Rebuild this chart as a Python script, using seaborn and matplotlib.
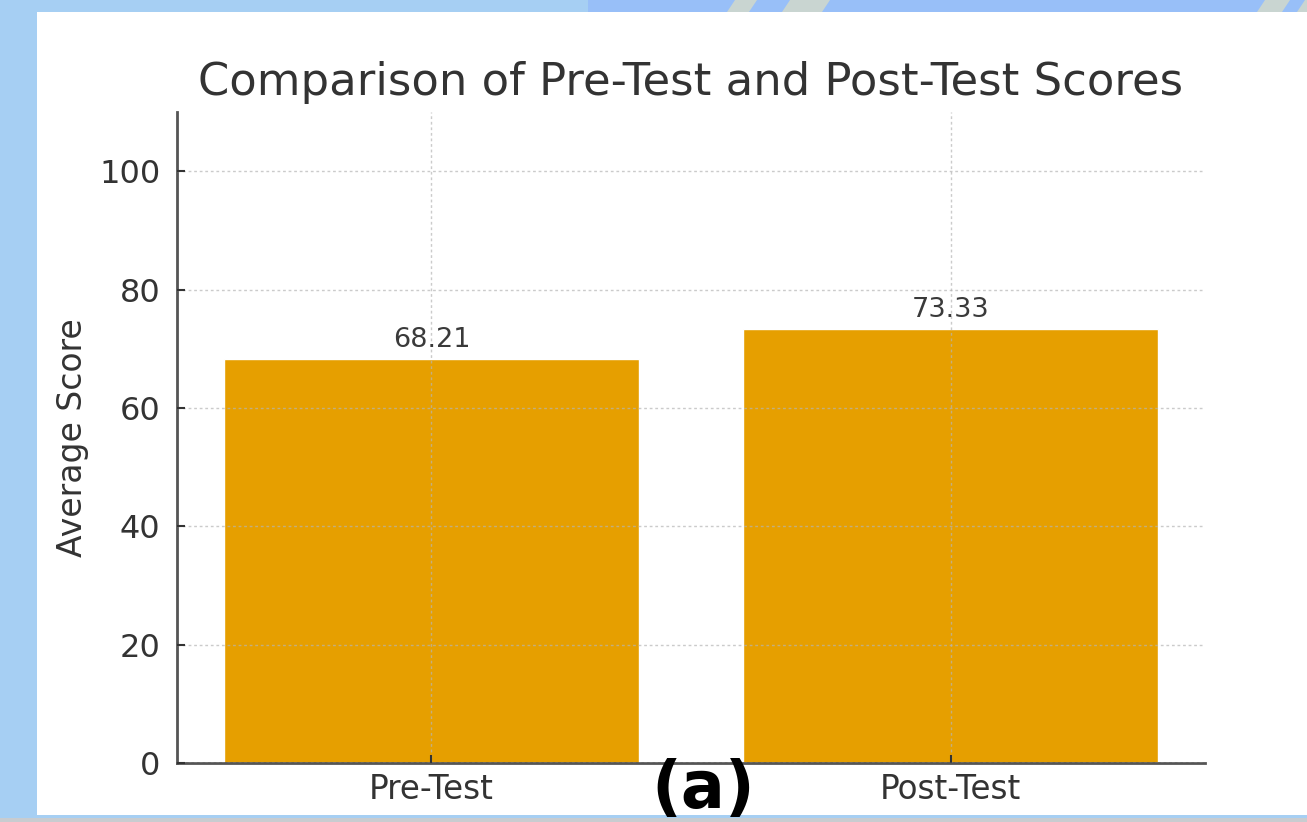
import numpy as np
import pandas as pd
import matplotlib
matplotlib.use('Agg')
import matplotlib.pyplot as plt
from matplotlib.patches import Rectangle, Polygon
import seaborn as sns

# data
groups = ['Pre-Test', 'Post-Test']
scores = [68.21, 73.33]
y_ticks = [0, 20, 40, 60, 80, 100]

df = pd.DataFrame({'group': groups, 'score': scores})

sns.set_style('white')
plt.rcParams['font.family'] = ['DejaVu Sans']

fig = plt.figure(figsize=(13.07, 8.22), dpi=100)
fig.patch.set_facecolor('#a6cff3')

# decorative frame: white card and stripes in the top band (kept behind the axes)
fig.patches.append(Rectangle((37 / 1307, 7 / 822), 1 - 37 / 1307, (815 - 12) / 822,
                             transform=fig.transFigure, facecolor='white',
                             edgecolor='none', zorder=-10))
fig.patches.append(Rectangle((0.45, 1 - 12 / 822), 0.55, 12 / 822,
                             transform=fig.transFigure, facecolor='#98bff8',
                             edgecolor='none', zorder=-10))
fig.patches.append(Rectangle((0, 0), 1, 4 / 822, transform=fig.transFigure,
                             facecolor='#c8ccd0', edgecolor='none', zorder=-10))
for x0, w in [(735, 22), (790, 40), (1265, 25), (1305, 10)]:
    pts = [(x0 / 1307, 1), ((x0 + w) / 1307, 1), ((x0 + w - 8) / 1307, 1 - 12 / 822),
           ((x0 - 8) / 1307, 1 - 12 / 822)]
    fig.patches.append(Polygon(pts, closed=True, transform=fig.transFigure,
                               facecolor='#c9d5d1', edgecolor='none', zorder=-9))

ax = fig.add_axes([177 / 1307, 1 - 763 / 822, (1205 - 177) / 1307, (763 - 112) / 822])
ax.set_facecolor('white')

sns.barplot(data=df, x='group', y='score', color='#e69f00', saturation=1,
            width=0.8, ax=ax, zorder=1)

for i, v in enumerate(scores):
    ax.text(i, v + 1.0, f'{v:.2f}', ha='center', va='bottom', fontsize=19.5, color='#3a3a3a')

ax.set_ylim(0, 110)
ax.set_xlim(-0.49, 1.49)
ax.set_yticks(y_ticks)
ax.set_title('Comparison of Pre-Test and Post-Test Scores', fontsize=32.3, color='#333333', pad=12)
ax.set_xlabel('')
ax.set_ylabel('Average Score', fontsize=23.8, color='#333333', labelpad=7)
ax.tick_params(axis='y', labelsize=23, pad=12)
ax.tick_params(axis='x', labelsize=23.5, pad=7)
ax.tick_params(axis='both', colors='#333333', length=6, width=1.5,
               direction='in', left=True, bottom=True)

ax.set_axisbelow(False)
ax.grid(True, linestyle=(0, (2, 2)), color='#b5b5b5', linewidth=1.0, alpha=0.7)

sns.despine(ax=ax)
for s in ['left', 'bottom']:
    ax.spines[s].set_color('#555555')
    ax.spines[s].set_linewidth(2)

fig.text(703 / 1307, 1 - 790 / 822, '(a)', ha='center', va='center',
         fontsize=47, fontweight='bold', color='black')

fig.savefig('out.png', dpi=100, facecolor=fig.get_facecolor())
